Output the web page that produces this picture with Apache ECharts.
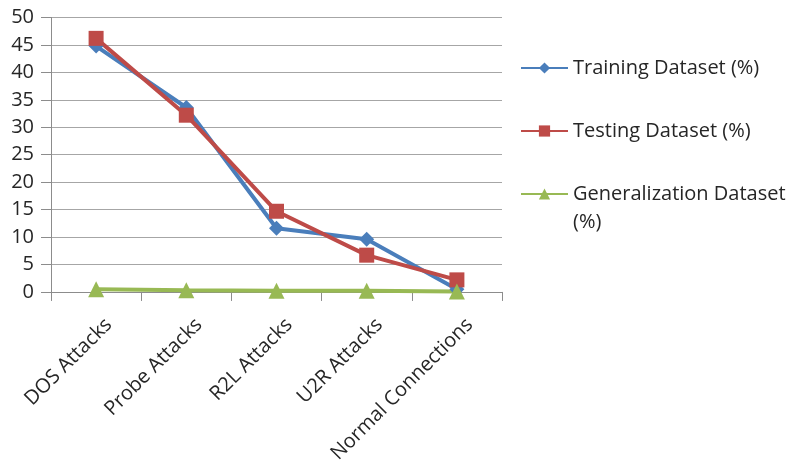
<!DOCTYPE html>
<html>
<head>
<meta charset="utf-8">
<script src="https://cdn.jsdelivr.net/npm/echarts@6/dist/echarts.min.js"></script>
<style>
  html, body { margin: 0; padding: 0; background: #fff; }
  #chart { width: 796px; height: 466px; }
</style>
</head>
<body>
<div id="chart"></div>
<script>
// Attack categories and percentage shares per dataset
const categories = ['DOS Attacks', 'Probe Attacks', 'R2L Attacks', 'U2R Attacks', 'Normal Connections'];
const trainingPct = [44.8, 33.6, 11.6, 9.6, 0.5];
const testingPct = [46.2, 32.2, 14.7, 6.7, 2.2];
const generalizationPct = [0.5, 0.3, 0.2, 0.2, 0.1];
const seriesNames = ['Training Dataset (%)', 'Testing Dataset (%)', 'Generalization Dataset (%)'];
const yTicks = { min: 0, max: 50, step: 5 };

const FONT = 'Open Sans';
const TEXT = '#262626';
const FS = 20;

const chart = echarts.init(document.getElementById('chart'), null, { renderer: 'canvas' });

function legendAt(name, top, extra) {
  return Object.assign({
    data: [name],
    left: 520,
    top: top,
    orient: 'vertical',
    itemWidth: 47,
    itemHeight: 14,
    itemGap: 0,
    padding: 0,
    selectedMode: false,
    textStyle: { fontFamily: FONT, fontSize: FS, color: TEXT }
  }, extra || {});
}

chart.setOption({
  animation: false,
  backgroundColor: '#ffffff',
  grid: { left: 51, right: 294, top: 17.5, bottom: 173, containLabel: false },
  xAxis: {
    type: 'category',
    data: categories,
    boundaryGap: true,
    axisLine: { lineStyle: { color: '#8c8c8c', width: 1 } },
    axisTick: { show: true, length: 9, lineStyle: { color: '#8c8c8c' } },
    axisLabel: {
      rotate: 45,
      interval: 0,
      margin: 17,
      verticalAlign: 'top',
      padding: [8, 0, 0, 0],
      fontFamily: FONT,
      fontSize: FS,
      color: TEXT
    },
    splitLine: { show: false }
  },
  yAxis: {
    type: 'value',
    min: yTicks.min,
    max: yTicks.max,
    interval: yTicks.step,
    axisLine: { show: true, lineStyle: { color: '#8c8c8c', width: 1 } },
    axisTick: { show: true, length: 10, lineStyle: { color: '#8c8c8c' } },
    axisLabel: { margin: 17, fontFamily: FONT, fontSize: FS, color: TEXT },
    splitLine: { show: true, lineStyle: { color: '#a6a6a6', width: 1 } }
  },
  legend: [
    legendAt(seriesNames[0], 58),
    legendAt(seriesNames[1], 121),
    legendAt(seriesNames[2], 152, {
      // leading blank line keeps the first text line level with the icon
      formatter: function () { return ' \nGeneralization Dataset\n(%)'; },
      textStyle: { fontFamily: FONT, fontSize: FS, color: TEXT, lineHeight: 28 }
    })
  ],
  series: [
    {
      name: seriesNames[0],
      type: 'line',
      data: trainingPct,
      color: '#4a7ebb',
      symbol: 'diamond',
      symbolSize: 15,
      lineStyle: { width: 4, color: '#4a7ebb' },
      itemStyle: { color: '#4a7ebb' }
    },
    {
      name: seriesNames[1],
      type: 'line',
      data: testingPct,
      color: '#be4b48',
      symbol: 'rect',
      symbolSize: 15,
      lineStyle: { width: 4, color: '#be4b48' },
      itemStyle: { color: '#be4b48' }
    },
    {
      name: seriesNames[2],
      type: 'line',
      data: generalizationPct,
      color: '#98b954',
      symbol: 'triangle',
      symbolSize: 16,
      lineStyle: { width: 4, color: '#98b954' },
      itemStyle: { color: '#98b954' }
    }
  ]
});
</script>
</body>
</html>
